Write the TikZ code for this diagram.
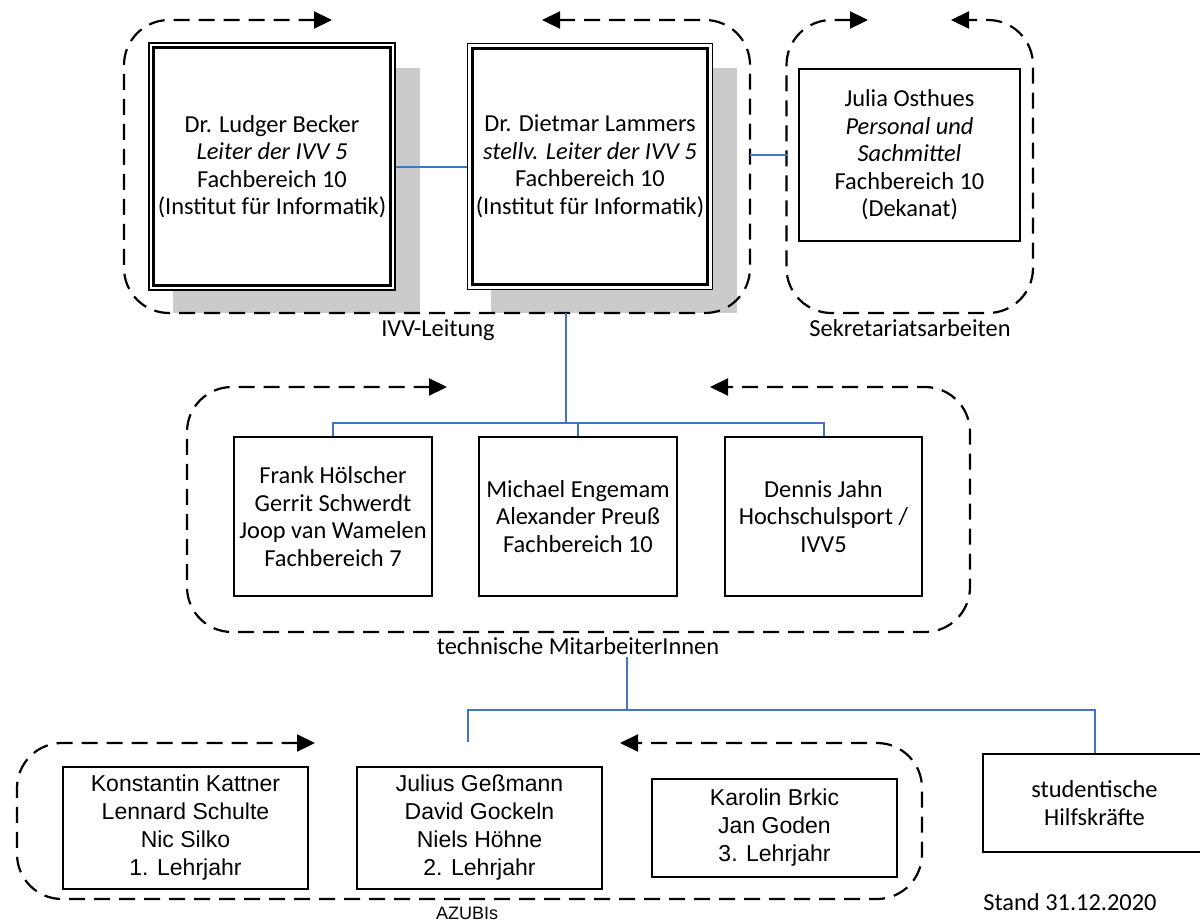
\documentclass[tikz,border=0pt]{standalone}
\usepackage{fontspec}
\setmainfont{Carlito}
\newfontfamily\arialf{Liberation Sans}
\usetikzlibrary{arrows.meta}
\definecolor{conblue}{HTML}{4472C4}
\definecolor{shadowgray}{HTML}{CBCBCB}
\begin{document}
\begin{tikzpicture}[x=1pt,y=-1pt,
  every node/.style={font=\fontsize{24.4}{27.5}\selectfont},
  box/.style={draw=black, line width=2pt, fill=white, inner sep=0pt, align=center},
  dbox/.style={draw=black, line width=1.6pt, fill=white, inner sep=0pt, align=center},
  grp/.style={draw=black, line width=2.2pt, dash pattern=on 16pt off 9pt, rounded corners=45pt,
     {Triangle[length=18pt,width=17pt]}-{Triangle[length=18pt,width=17pt]}},
  con/.style={draw=conblue, line width=2pt},
  lbl/.style={inner sep=0pt},
  azubi/.style={box, font=\arialf\fontsize{23}{28}\selectfont}
]
\clip (0,0) rectangle (1200,924);
\fill[white] (0,0) rectangle (1200,924);

% shadows
\fill[shadowgray] (173,68) rectangle (420,313);
\fill[shadowgray] (491,68) rectangle (737,313);

% group frames
\draw[grp] (332,20) -- (124,20) -- (124,313) -- (750,313) -- (750,20) -- (542,20);
\draw[grp] (868,20) -- (786.5,20) -- (786.5,313) -- (1033,313) -- (1033,20) -- (951,20);
\draw[grp] (447,387) -- (187,387) -- (187,632) -- (970,632) -- (970,387) -- (710,387);
\draw[grp] (315,743) -- (17,743) -- (17,899) -- (922,899) -- (922,743) -- (620,743);

% leadership boxes
\node[dbox, minimum width=246pt, minimum height=247pt] (becker) at (272,166.5)
  {Dr. Ludger Becker\\\textit{Leiter der IVV 5}\\Fachbereich 10\\(Institut für Informatik)};
\draw[line width=2.8pt] ([shift={(5.5pt,-5.5pt)}]becker.north west) rectangle ([shift={(-5.5pt,5.5pt)}]becker.south east);
\node[dbox, minimum width=245pt, minimum height=246pt] (lammers) at (590,166.5)
  {Dr. Dietmar Lammers\\\textit{stellv. Leiter der IVV 5}\\Fachbereich 10\\(Institut für Informatik)};
\draw[line width=2.8pt] ([shift={(5.5pt,-5.5pt)}]lammers.north west) rectangle ([shift={(-5.5pt,5.5pt)}]lammers.south east);

\node[box, minimum width=221pt, minimum height=172pt] (julia) at (909.5,155)
  {Julia Osthues\\\textit{Personal und}\\\textit{Sachmittel}\\Fachbereich 10\\(Dekanat)};

% technical staff
\node[box, minimum width=197.5pt, minimum height=159pt] (frank) at (333,516.5)
  {Frank Hölscher\\Gerrit Schwerdt\\Joop van Wamelen\\Fachbereich 7};
\node[box, minimum width=197.5pt, minimum height=159pt] (michael) at (578,516.5)
  {Michael Engemam\\Alexander Preuß\\Fachbereich 10};
\node[box, minimum width=197.5pt, minimum height=159pt] (dennis) at (823.5,516.5)
  {Dennis Jahn\\Hochschulsport /\\IVV5};

% apprentices
\node[azubi, minimum width=245pt, minimum height=122pt] (az1) at (185.5,828)
  {Konstantin Kattner\\Lennard Schulte\\Nic Silko\\1. Lehrjahr};
\node[azubi, minimum width=245pt, minimum height=122pt] (az2) at (479.5,828)
  {Julius Geßmann\\David Gockeln\\Niels Höhne\\2. Lehrjahr};
\node[azubi, minimum width=245pt, minimum height=98pt] (az3) at (774.5,828)
  {Karolin Brkic\\Jan Goden\\3. Lehrjahr};

\node[box, minimum width=223pt, minimum height=98pt] (stud) at (1094.5,803)
  {studentische\\Hilfskräfte};

% labels
\node[lbl] (l1) at (438,330) {IVV-Leitung};
\node[lbl] (l2) at (910,328) {Sekretariatsarbeiten};
\node[lbl] (l3) at (578,646) {technische MitarbeiterInnen};
\node[lbl, font=\arialf\fontsize{18}{20}\selectfont] (l4) at (467,913) {AZUBIs};
\node[lbl] (stand) at (1070,902) {Stand 31.12.2020};

% connectors
\coordinate (g1e) at (750,155);
\coordinate (g2w) at (786.5,155);
\draw[con] (g1e) -- (g2w);
\draw[con] (becker.east) -- (lammers.west);
\coordinate (g1s) at (566,313);
\coordinate (bus1) at (566,424);
\draw[con] (g1s) -- (bus1);
\draw[con] (frank.north) -- ++(0,-13) -| (dennis.north);
\draw[con] (michael.north) -- (michael.north |- bus1);
\coordinate (t2s) at (627,657);
\coordinate (bus2) at (627,710);
\coordinate (azt) at (468,742);
\draw[con] (t2s) -- (bus2);
\draw[con] (azt) |- (bus2) -| (stud.north);
\end{tikzpicture}
\end{document}
